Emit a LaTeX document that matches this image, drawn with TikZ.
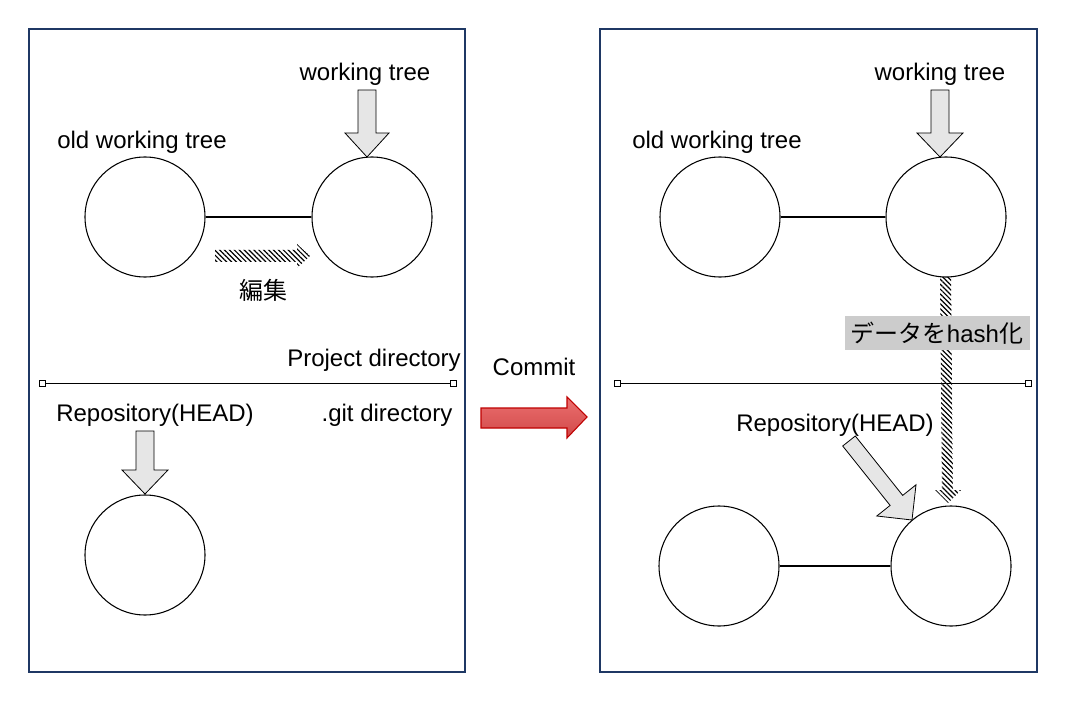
\documentclass[tikz,border=0pt]{standalone}
\usepackage{fontspec}
\setmainfont{Liberation Sans}
\newfontfamily\cjk{Noto Sans CJK JP}
\usetikzlibrary{patterns.meta}

\definecolor{panelblue}{RGB}{31,56,100}
\definecolor{arrowgray}{RGB}{230,230,230}
\definecolor{hashgray}{RGB}{204,204,204}
\definecolor{commitred}{RGB}{236,112,112}
\definecolor{commitdark}{RGB}{208,72,72}

\tikzset{
  panel/.style={draw=panelblue, line width=1.5pt},
  treecircle/.style={circle, draw, minimum size=90pt, inner sep=0pt, line width=0.8pt},
  lbl/.style={font=\fontsize{18}{21}\selectfont, inner sep=0pt},
  grayarrow/.style={draw, fill=arrowgray, line width=0.6pt, line join=miter},
  hatcharrow/.style={pattern={Lines[angle=-45, distance=2.6pt, line width=0.9pt]}},
  endsq/.style={draw, rectangle, minimum size=4.5pt, inner sep=0pt, fill=white, line width=0.5pt},
}

\begin{document}
\begin{tikzpicture}[x=0.75pt, y=-0.75pt]
        \useasboundingbox (0,0) rectangle (1067,702);

        % Draw the two panels
        \draw[panel] (29,29) rectangle (465,672);
        \draw[panel] (600,29) rectangle (1037,672);

        % Left panel: trees before the commit
        \node[treecircle] (oldL) at (145,217) {};
        \node[treecircle] (wtL) at (372,217) {};
        \draw[line width=0.8pt] (oldL) -- (wtL);
        \node[lbl] (oldLtxt) at (142,142) {old working tree};
        \node[lbl] (wtLtxt) at (365,74) {working tree};

        % Arrow onto working tree
        \coordinate (wtipL) at (367,157);
        \draw[grayarrow] (wtipL) -- ++(-22,-24) -- ++(13,0) -- ++(0,-43) -- ++(18,0)
            -- ++(0,43) -- ++(13,0) -- cycle;

        % Edit arrow
        \coordinate (editTip) at (310,256);
        \fill[hatcharrow] (editTip) -- ++(-13,-12) -- ++(0,6) -- ++(-82,0) -- ++(0,12)
            -- ++(82,0) -- ++(0,6) -- cycle;
        \node[lbl] (edittxt) at (263,290) {\cjk 編集};

        % Directory boundary
        \node[lbl] (projL) at (374,360) {Project directory};
        \node[endsq] (sqL1) at (42,383) {};
        \node[endsq] (sqL2) at (453,383) {};
        \draw[line width=0.6pt] (sqL1) -- (sqL2);
        \node[lbl] (gitL) at (387,415) {.git directory};

        % Repository (HEAD)
        \node[lbl] (repoLtxt) at (155,415) {Repository(HEAD)};
        \coordinate (rtipL) at (145,494);
        \draw[grayarrow] (rtipL) -- ++(-23,-24) -- ++(14,0) -- ++(0,-39) -- ++(18,0)
            -- ++(0,39) -- ++(14,0) -- cycle;
        \node[treecircle] (headL) at (145,555) {};

        % Commit arrow
        \node[lbl] (committxt) at (534,367) {Commit};
        \coordinate (ctip) at (587,417);
        \shade[top color=commitred, bottom color=commitdark, draw=red!75!black, line width=0.8pt]
            (ctip) -- ++(-20,-20) -- ++(0,11) -- ++(-86,0) -- ++(0,20) -- ++(86,0)
            -- ++(0,10) -- cycle;

        % Right panel: trees after the commit
        \node[treecircle] (oldR) at (720,217) {};
        \node[treecircle] (wtR) at (946,217) {};
        \draw[line width=0.8pt] (oldR) -- (wtR);
        \node[lbl] (oldRtxt) at (717,142) {old working tree};
        \node[lbl] (wtRtxt) at (940,74) {working tree};
        \coordinate (wtipR) at (940,157);
        \draw[grayarrow] (wtipR) -- ++(-23,-24) -- ++(14,0) -- ++(0,-43) -- ++(18,0)
            -- ++(0,43) -- ++(14,0) -- cycle;

        % Hash arrow down to the new commit
        \coordinate (hashTip) at (948,503);
        \fill[hatcharrow] (hashTip) -- ++(-13,-13) -- ++(7,0) -- ++(-2,-213) -- ++(11,0)
            -- ++(2,213) -- ++(8,0) -- cycle;
        \node[lbl, fill=hashgray, minimum width=138.75pt, minimum height=25.5pt] (hashtxt)
            at (937,333) {{\cjk データを}hash{\cjk 化}};

        % Directory boundary
        \node[endsq] (sqR1) at (617,383) {};
        \node[endsq] (sqR2) at (1028,383) {};
        \draw[line width=0.6pt] (sqR1) -- (sqR2);

        % New commits
        \node[treecircle] (oldHeadR) at (719,566) {};
        \node[treecircle] (headR) at (951,566) {};
        \draw[line width=0.8pt] (oldHeadR) -- (headR);
        \node[lbl] (repoRtxt) at (835,425) {Repository(HEAD)};
        \draw[grayarrow] (912,520) -- (876.8,516) -- (890.1,505.4) -- (842.7,446)
            -- (855.3,436) -- (902.7,495.4) -- (916,484.8) -- cycle;
    \end{tikzpicture}
\end{document}
